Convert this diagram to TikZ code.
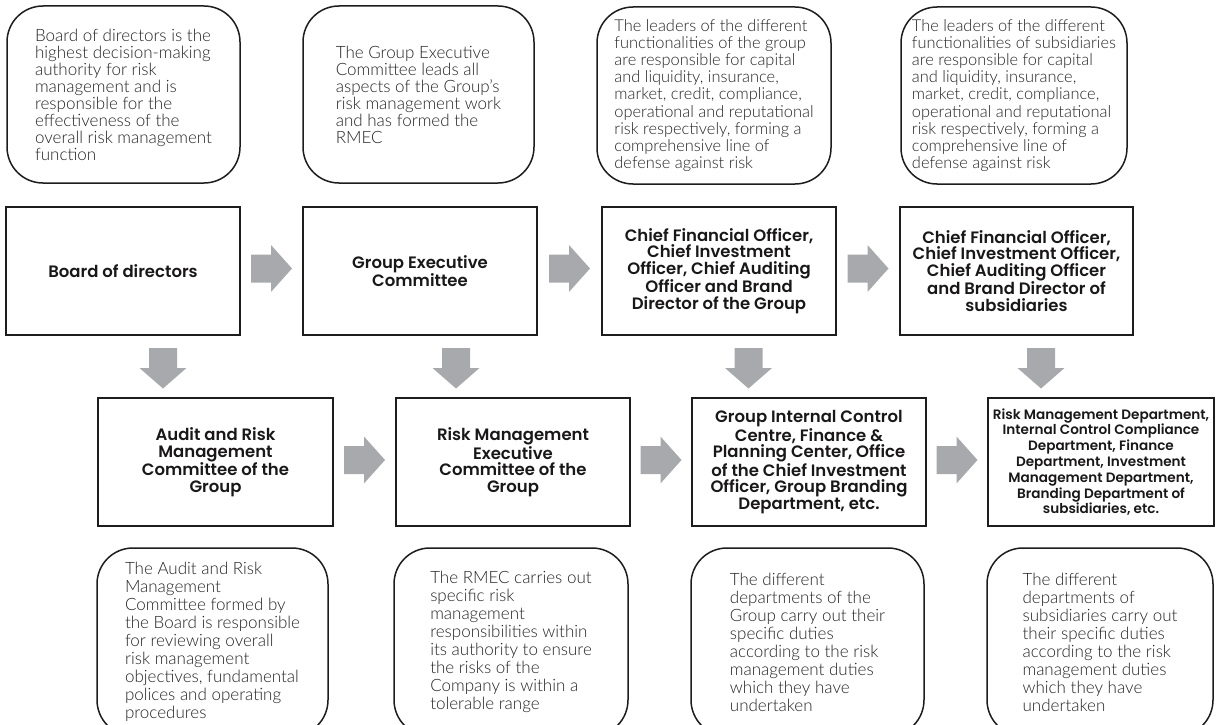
\documentclass[tikz,border=0pt]{standalone}
\usepackage{fontspec}
\usetikzlibrary{calc}
\IfFontExistsTF{Lato Light}{\newfontfamily\lightfnt{Lato Light}}{\newfontfamily\lightfnt{Lato}}
\IfFontExistsTF{Poppins SemiBold}{\newfontfamily\boldfnt{Poppins SemiBold}}{\newfontfamily\boldfntx{Poppins}\newcommand\boldfnt{\boldfntx\bfseries}}
\definecolor{arrowgray}{RGB}{167,169,172}
\definecolor{linecol}{RGB}{30,28,29}
\definecolor{txtcol}{RGB}{25,23,24}
\definecolor{lighttxt}{RGB}{35,35,35}
\tikzset{
  note/.style={draw=linecol, line width=1.5pt, rounded corners=36pt, inner sep=0pt,
    align=left, text=lighttxt, font=\lightfnt\fontsize{17}{17}\selectfont},
  widenote/.style={note, font=\lightfnt\fontsize{16.4}{17.2}\selectfont},
  lownote/.style={note, font=\lightfnt\fontsize{17}{18}\selectfont},
  rolebox/.style={draw=linecol, line width=1.3pt, inner sep=0pt, align=center,
    text=txtcol, font=\boldfnt\fontsize{16.5}{16.5}\selectfont},
  arrowfill/.style={fill=arrowgray, draw=none}
}
% block arrow pointing right, centred on #1
\newcommand\harr[1]{\fill[arrowfill] ([shift={(-20.5,-14)}]#1) -- ++(20,0) -- ++(0,-9.5) -- ++(21,23.5) -- ++(-21,23.5) -- ++(0,-9.5) -- ++(-20,0) -- cycle;}
% block arrow pointing down, centred on #1
\newcommand\varr[1]{\fill[arrowfill] ([shift={(-14,-20)}]#1) -- ++(28,0) -- ++(0,20) -- ++(9.5,0) -- ++(-23.5,20.5) -- ++(-23.5,-20.5) -- ++(9.5,0) -- cycle;}
\begin{document}
\begin{tikzpicture}[x=1pt,y=-1pt]
\useasboundingbox (0,0) rectangle (1216,725);
\clip (0,0) rectangle (1216,725);
% top notes
\node[note, minimum width=233pt, minimum height=177pt] (r1) at (123.5,94.5)
 {Board of directors is the\\highest decision-making\\authority for risk\\management and is\\responsible for the\\effectiveness of the\\overall risk management\\function};
\node[note, minimum width=231pt, minimum height=177pt] (r2) at (418.5,94.5)
 {The Group Executive\\Committee leads all\\aspects of the Group’s\\risk management work\\and has formed the\\RMEC};
\node[widenote, minimum width=234pt, minimum height=177pt] (r3) at (714,95.5)
 {The leaders of the different\\functionalities of the group\\are responsible for capital\\and liquidity, insurance,\\market, credit, compliance,\\operational and reputational\\risk respectively, forming a\\comprehensive line of\\defense against risk};
\node[widenote, minimum width=226pt, minimum height=177pt] (r4) at (1014,95.5)
 {The leaders of the different\\functionalities of subsidiaries\\are responsible for capital\\and liquidity, insurance,\\market, credit, compliance,\\operational and reputational\\risk respectively, forming a\\comprehensive line of\\defense against risk};
% top role boxes
\node[rolebox, minimum width=234pt, minimum height=128pt] (A) at (123,271) {Board of directors};
\node[rolebox, minimum width=234pt, minimum height=128pt] (B) at (420,271) {Group Executive\\Committee};
\node[rolebox, minimum width=234pt, minimum height=128pt] (C) at (719,271)
 {Chief Financial Officer,\\Chief Investment\\Officer, Chief Auditing\\Officer and Brand\\Director of the Group};
\node[rolebox, minimum width=233pt, minimum height=128pt] (D) at (1016.5,271)
 {Chief Financial Officer,\\Chief Investment Officer,\\Chief Auditing Officer\\and Brand Director of\\subsidiaries};
% bottom role boxes
\node[rolebox, minimum width=235pt, minimum height=128pt] (E) at (215.5,462)
 {Audit and Risk\\Management\\Committee of the\\Group};
\node[rolebox, minimum width=234pt, minimum height=128pt] (F) at (513,462)
 {Risk Management\\Executive\\Committee of the\\Group};
\node[rolebox, minimum width=234pt, minimum height=128pt] (G) at (809,462)
 {Group Internal Control\\Centre, Finance \&\\Planning Center, Office\\of the Chief Investment\\Officer, Group Branding\\Department, etc.};
\node[rolebox, minimum width=226pt, minimum height=128pt, font=\boldfnt\fontsize{13.6}{15.8}\selectfont] (H) at (1101,462)
 {Risk Management Department,\\Internal Control Compliance\\Department, Finance\\Department, Investment\\Management Department,\\Branding Department of\\subsidiaries, etc.};
% bottom notes
\node[lownote, minimum width=231pt, minimum height=188pt] (b1) at (212.5,642)
 {The Audit and Risk\\Management\\Committee formed by\\the Board is responsible\\for reviewing overall\\risk management\\objectives, fundamental\\polices and operating\\procedures};
\node[lownote, minimum width=234pt, minimum height=188pt] (b2) at (511,642)
 {The RMEC carries out\\specific risk\\management\\responsibilities within\\its authority to ensure\\the risks of the\\Company is within a\\tolerable range};
\node[lownote, minimum width=233pt, minimum height=188pt] (b3) at (807.5,642)
 {The different\\departments of the\\Group carry out their\\specific duties\\according to the risk\\management duties\\which they have\\undertaken};
\node[lownote, minimum width=226pt, minimum height=188pt] (b4) at (1100,642)
 {The different\\departments of\\subsidiaries carry out\\their specific duties\\according to the risk\\management duties\\which they have\\undertaken};
% horizontal block arrows between role boxes
\harr{$(A.east)!0.5!(B.west)+(0,-2.5)$}
\harr{$(B.east)!0.5!(C.west)+(0,-2.5)$}
\harr{$(C.east)!0.5!(D.west)+(0,-2.5)$}
\harr{$(E.east)!0.5!(F.west)+(0,-2)$}
\harr{$(F.east)!0.5!(G.west)+(0,-2)$}
\harr{$(G.east)!0.5!(H.west)+(0,-2)$}
% vertical block arrows
\coordinate (ae) at (163,368);
\coordinate (bf) at (456,368);
\coordinate (cg) at (748.5,368);
\coordinate (dh) at (1041,368);
\varr{ae}
\varr{bf}
\varr{cg}
\varr{dh}
\end{tikzpicture}
\end{document}
